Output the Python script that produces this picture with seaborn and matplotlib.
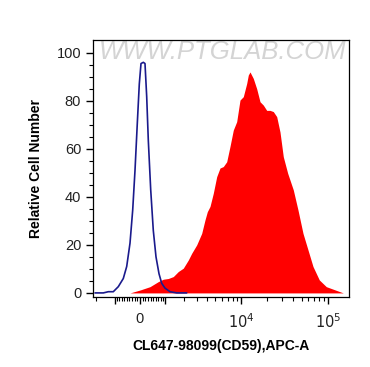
import numpy as np
import pandas as pd
import matplotlib
matplotlib.use("Agg")
import matplotlib.pyplot as plt
import seaborn as sns

# channel positions (display units) and relative cell counts
blue_channel = [2, 10.3, 15.3, 20.3, 25.3, 30.3, 33.7, 37, 39.7, 42, 44.3, 46.3, 48,
                50.3, 52, 53.7, 55.3, 57.7, 60.3, 63, 66, 68.7, 72, 77, 83.7, 93.7]
blue_count = [0, 0, 0.5, 0.5, 2.6, 6, 11, 20.7, 34.5, 51, 70.6, 87, 95.5,
              96, 95.5, 81.7, 63.6, 43, 26, 15, 8, 4, 2, 0.5, 0, 0]

red_channel = [37, 47, 57, 65.3, 70.3, 75.3, 80.3, 85.3, 90.3, 95.3, 98.7, 103.7,
               108.7, 112, 114.3, 117, 120.3, 123.7, 127, 130.3, 133.7, 137, 140.3,
               143.7, 147, 150.3, 153.7, 155.3, 157, 160.3, 163.7, 167, 170.3, 173.7,
               177, 180.3, 183.7, 187, 190.3, 194.7, 200.3, 205, 210, 215, 220, 226.3,
               233.3, 250.3]
red_count = [0, 1.2, 2.6, 4.7, 5.7, 6, 6.8, 8.9, 10.3, 13.7, 16.5, 20,
             24.8, 30.4, 33.8, 36, 41.5, 48.4, 52, 52.6, 54.6, 61, 67.8,
             71.3, 80.3, 81.7, 87.2, 90.7, 92, 89.3, 85, 79.6, 78.2, 76,
             76, 75.5, 73.4, 67, 56.7, 49.8, 42.9, 34.5, 24.8, 17.9, 11, 5.4,
             2.6, 0]

blue = pd.DataFrame({"channel": blue_channel, "count": blue_count})
red = pd.DataFrame({"channel": red_channel, "count": red_count})


def biex(v):
    # approximate biexponential display position of a fluorescence value
    return 47 + 37.8 * np.arcsinh(np.asarray(v, dtype=float) / 1393.0)


sns.set_style("ticks")
plt.rcParams["font.family"] = ["Liberation Sans", "DejaVu Sans"]
plt.rcParams["text.color"] = "black"
plt.rcParams["axes.labelcolor"] = "black"

fig = plt.figure(figsize=(3.7, 3.67), dpi=100)
ax = fig.add_axes([93 / 370, 1 - 297 / 367, 256 / 370, 257 / 367])

ax.fill_between(red["channel"], red["count"], color="#ff0000", linewidth=0, zorder=2)
sns.lineplot(data=blue, x="channel", y="count", color="#1a1a8c", linewidth=1.2,
             ax=ax, zorder=3)

ax.set_xlim(0, 256)
ax.set_ylim(-1.7, 105.3)

# y ticks
ax.set_yticks([0, 20, 40, 60, 80, 100])
ax.set_yticks(np.arange(0, 101, 5), minor=True)

# x ticks on biexponential scale
major_vals = [-1e3, 0, 1e3, 1e4, 1e5]
ax.set_xticks(biex(major_vals))
ax.set_xticklabels(["", "0", "", "$10^4$", "$10^5$"])
minor_vals = list(np.arange(-900, 1000, 100)) + [-2e3] + \
    [k * 1e3 for k in range(2, 10)] + [k * 1e4 for k in range(2, 10)]
ax.set_xticks(biex(minor_vals), minor=True)

ax.tick_params(axis="both", which="major", length=5, width=1, labelsize=10.5,
               direction="out", colors="black", labelcolor="#222222")
ax.tick_params(axis="both", which="minor", length=3, width=0.8, direction="out",
               colors="black")
ax.tick_params(axis="x", pad=6)

for s in ax.spines.values():
    s.set_visible(True)
    s.set_linewidth(0.9)
    s.set_color("black")

ax.set_xlabel("CL647-98099(CD59),APC-A", fontsize=10, fontweight="bold", labelpad=6)
ax.set_ylabel("Relative Cell Number", fontsize=10, fontweight="bold", labelpad=10)

ax.text(0.505, 0.955, "WWW.PTGLAB.COM", transform=ax.transAxes, ha="center", va="center",
        fontsize=18.5, color="#d4d4d4", style="italic", zorder=1)

fig.savefig("out.png", dpi=100)
